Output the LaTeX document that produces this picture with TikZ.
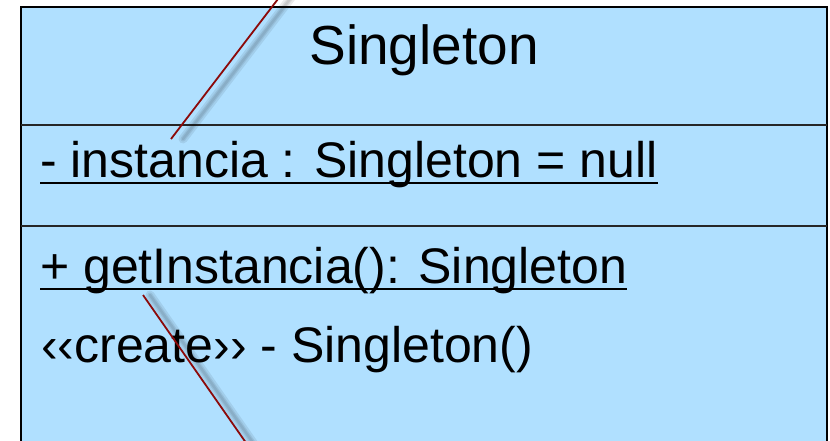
\documentclass[tikz,border=0pt]{standalone}
\usepackage{fontspec}
\setmainfont{Liberation Sans}
\definecolor{classblue}{RGB}{176,224,255}
\definecolor{notered}{RGB}{140,10,10}

\begin{document}
\begin{tikzpicture}[
  x=1pt, y=-1pt,
  member/.style={anchor=base west, inner sep=0pt, font=\fontsize{50}{60}\selectfont},
  sep/.style={line width=1.5pt, draw=black!85},
  ul/.style={line width=1.8pt},
  note/.style={draw=notered, line width=1.8pt},
  shade/.style={draw=black, line width=#1, opacity=0.08, line cap=round},
]
\useasboundingbox (0,0) rectangle (830,441);
\clip (0,0) rectangle (830,441);

% class box
\draw[fill=classblue, line width=2pt] (21,7) rectangle (827,470);
\draw[sep] (21,125) -- (827,125);
\draw[sep] (21,226) -- (827,226);

% texts
\node[font=\fontsize{55}{66}\selectfont, anchor=base, inner sep=0pt] (title) at (424,65) {Singleton};
\node[member] (attr) at (40,177) {- instancia : Singleton = null};
\node[member] (op) at (40,283) {+ getInstancia(): Singleton};
\node[member] (ctor) at (41,362) {‹‹create›› - Singleton()};

% static members are underlined
\draw[ul] ([yshift=-6pt]attr.base west) -- ([yshift=-6pt]attr.base east);
\draw[ul] ([yshift=-6pt]op.base west) -- ([yshift=-6pt]op.base east);

% note links
\coordinate (attrpin) at (171,139);
\coordinate (attrnote) at (291,-18);
\coordinate (oppin) at (143,295);
\coordinate (opnote) at (258,460);
\foreach \w in {9pt,5pt,2.5pt} {
  \draw[shade=\w] ([xshift=12pt]attrpin) -- ([xshift=12pt]attrnote);
  \draw[shade=\w] ([xshift=7pt]oppin) -- ([xshift=7pt]opnote);
}
\draw[note] (attrpin) -- (attrnote);
\draw[note] (oppin) -- (opnote);
\end{tikzpicture}
\end{document}
